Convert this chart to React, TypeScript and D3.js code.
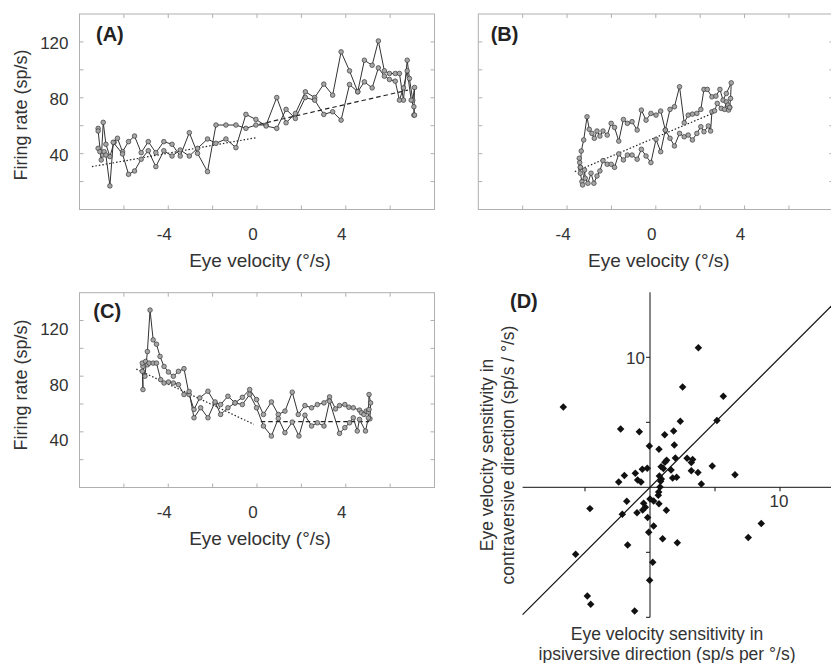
import React from "react";
import * as d3 from "d3";

type Pt = [number, number];

// ---------- Panel A ----------
const A_SWEEP_1: Pt[] = [
  [-7.16, 58.1], [-7.16, 56.2], [-7.02, 35.5], [-6.93, 62.4], [-6.81, 46.7], [-6.63, 37.9],
  [-6.44, 48.1], [-6.29, 51.0], [-6.06, 41.4], [-5.79, 48.6], [-5.52, 52.6], [-5.22, 40.7],
  [-4.90, 48.6], [-4.56, 40.7], [-4.20, 48.6], [-3.83, 46.7], [-3.46, 38.3], [-3.05, 55.0],
  [-2.68, 40.2], [-2.23, 27.1], [-1.85, 60.5], [-1.40, 60.5], [-0.95, 60.5], [-0.50, 58.1],
  [-0.05, 60.5], [0.41, 60.5], [0.89, 80.2], [1.31, 62.1], [1.73, 68.8], [2.18, 84.3],
  [2.60, 80.2], [3.01, 89.8], [3.41, 81.9], [3.79, 112.9], [4.17, 99.3], [4.54, 84.3],
  [4.84, 106.9], [5.19, 103.3], [5.47, 120.7], [5.74, 99.3], [5.97, 97.4], [6.23, 97.4],
  [6.42, 97.4], [6.60, 78.3], [6.77, 106.9], [6.87, 93.8], [7.02, 78.3], [7.10, 87.4], [7.07, 67.6],
];
const A_SWEEP_2: Pt[] = [
  [-7.16, 43.8], [-7.08, 41.4], [-6.96, 39.0], [-6.89, 41.4], [-6.81, 39.0], [-6.63, 16.9],
  [-6.48, 48.1], [-6.06, 39.8], [-5.79, 25.2], [-5.52, 27.6], [-5.22, 36.0], [-4.90, 42.1],
  [-4.56, 30.7], [-4.20, 42.1], [-3.83, 38.3], [-3.46, 42.6], [-3.05, 38.3], [-2.68, 43.8],
  [-2.23, 50.5], [-1.85, 47.4], [-1.40, 50.5], [-0.95, 44.3], [-0.50, 68.1], [-0.05, 64.5],
  [0.41, 59.8], [0.89, 58.1], [1.31, 71.7], [1.73, 65.2], [2.18, 80.2], [2.60, 78.3],
  [3.01, 68.1], [3.41, 70.0], [3.79, 64.0], [4.17, 89.5], [4.54, 84.3], [4.84, 91.4],
  [5.19, 87.1], [5.47, 101.4], [5.74, 95.5], [5.97, 93.1], [6.23, 91.9], [6.42, 78.3],
  [6.60, 87.1], [6.77, 99.3], [6.95, 78.3], [7.07, 73.6], [7.10, 67.6],
];
const A_FIT_DOTTED: Pt[] = [[-7.44, 30.7], [-0.05, 51.4]];
const A_FIT_DASHED: Pt[] = [[0.1, 61.0], [6.8, 85.5]];

// ---------- Panel B ----------
const B_SWEEP_1: Pt[] = [
  [-3.40, 30.2], [-3.36, 41.9], [-3.25, 49.8], [-3.10, 66.4], [-3.00, 57.4], [-2.88, 54.5],
  [-2.77, 51.0], [-2.65, 56.2], [-2.52, 52.6], [-2.38, 56.2], [-2.19, 53.3], [-2.01, 61.7],
  [-1.86, 58.8], [-1.67, 49.0], [-1.46, 64.5], [-1.28, 61.7], [-1.07, 62.9], [-0.84, 56.9],
  [-0.65, 71.2], [-0.44, 64.0], [-0.22, 68.8], [0.01, 67.6], [0.22, 70.5], [0.43, 56.9],
  [0.64, 71.7], [0.84, 73.6], [1.07, 87.9], [1.28, 62.1], [1.46, 67.6], [1.65, 68.3],
  [1.85, 68.8], [2.03, 71.7], [2.17, 86.0], [2.32, 86.0], [2.53, 80.7], [2.71, 81.2],
  [2.89, 86.0], [3.03, 78.3], [3.18, 83.1], [3.40, 90.7], [3.37, 79.5], [3.33, 73.1],
];
const B_SWEEP_2: Pt[] = [
  [-3.40, 30.2], [-3.45, 36.7], [-3.43, 33.6], [-3.40, 26.0], [-3.33, 20.0], [-3.30, 17.6],
  [-3.21, 28.3], [-3.18, 22.4], [-3.06, 18.8], [-2.92, 26.0], [-2.79, 18.8], [-2.65, 24.0],
  [-2.52, 27.6], [-2.38, 35.0], [-2.19, 32.4], [-2.01, 32.4], [-1.86, 30.2], [-1.67, 39.8],
  [-1.46, 35.5], [-1.28, 39.0], [-1.07, 39.0], [-0.84, 36.0], [-0.65, 43.1], [-0.44, 38.3],
  [-0.22, 33.6], [0.01, 50.2], [0.22, 41.4], [0.43, 56.9], [0.64, 51.0], [0.84, 45.5],
  [1.07, 54.5], [1.28, 52.1], [1.46, 53.3], [1.65, 49.8], [1.85, 54.5], [2.03, 59.3],
  [2.17, 55.7], [2.37, 59.8], [2.47, 56.2], [2.53, 70.0], [2.65, 70.7], [2.77, 76.0],
  [2.95, 72.4], [3.10, 71.7], [3.18, 77.1], [3.25, 74.8], [3.28, 71.2], [3.33, 73.1],
];
const B_FIT_DOTTED: Pt[] = [[-3.65, 27.1], [2.58, 69.0]];

// ---------- Panel C ----------
const C_SWEEP_1: Pt[] = [
  [-5.17, 83.5], [-5.14, 70.4], [-5.14, 87.0], [-5.05, 80.0], [-4.94, 97.7], [-4.82, 127.5],
  [-4.68, 106.1], [-4.53, 103.0], [-4.37, 94.2], [-4.19, 87.0], [-3.99, 83.0], [-3.77, 79.9],
  [-3.54, 83.5], [-3.29, 85.4], [-3.06, 66.8], [-2.84, 56.1], [-2.58, 64.4], [-2.21, 69.2],
  [-1.89, 60.8], [-1.64, 59.6], [-1.31, 65.6], [-0.99, 60.8], [-0.66, 64.8], [-0.33, 70.4],
  [-0.02, 63.2], [0.29, 52.5], [0.65, 61.5], [0.96, 52.5], [1.26, 54.9], [1.59, 68.5],
  [1.86, 52.5], [2.16, 58.9], [2.46, 57.3], [2.72, 59.6], [3.02, 60.8], [3.27, 65.1],
  [3.54, 56.5], [3.72, 58.9], [3.96, 59.6], [4.14, 57.7], [4.34, 57.3], [4.62, 55.6],
  [4.71, 53.7], [4.82, 52.5], [4.92, 54.9], [5.02, 54.2], [5.05, 66.8], [5.12, 60.8], [5.09, 49.4],
];
const C_SWEEP_2: Pt[] = [
  [-5.17, 89.4], [-5.02, 90.6], [-4.94, 88.2], [-4.86, 89.4], [-4.68, 89.4], [-4.53, 89.4],
  [-4.34, 77.5], [-4.19, 75.1], [-3.99, 75.8], [-3.77, 75.1], [-3.54, 73.9], [-3.29, 66.8],
  [-3.06, 69.0], [-2.84, 50.1], [-2.54, 57.3], [-2.21, 50.1], [-1.89, 61.5], [-1.64, 52.5],
  [-1.31, 57.3], [-0.99, 60.8], [-0.66, 59.6], [-0.33, 66.8], [-0.02, 57.3], [0.29, 44.2],
  [0.65, 37.0], [0.96, 49.6], [1.26, 39.4], [1.59, 47.0], [1.89, 37.0], [2.16, 52.0],
  [2.46, 44.2], [2.72, 46.5], [3.02, 44.2], [3.27, 62.0], [3.72, 38.9], [3.96, 43.0],
  [4.17, 46.5], [4.34, 50.1], [4.52, 40.6], [4.62, 48.9], [4.89, 40.6], [5.02, 50.0], [5.05, 56.1],
];
const C_FIT_DOTTED: Pt[] = [[-5.44, 85.1], [-0.14, 45.4]];
const C_FIT_DASHED: Pt[] = [[0.17, 47.3], [5.05, 47.3]];

// ---------- Panel D ----------
const D_POINTS: Pt[] = [
  [3.72, 10.74], [2.51, 7.72], [5.64, 7.0], [-6.67, 6.18], [5.15, 5.13], [2.33, 5.08],
  [-2.26, 4.49], [-0.82, 4.28], [1.82, 4.33], [1.13, 4.05], [1.87, 3.26], [-0.05, 3.18],
  [0.69, 2.92], [1.95, 2.26], [1.28, 2.08], [1.15, 1.92], [2.85, 2.23], [3.28, 2.13],
  [3.18, 1.90], [4.79, 1.64], [0.85, 1.59], [1.03, 1.44], [1.62, 1.33], [-0.21, 1.46],
  [-0.59, 1.38], [-1.13, 1.08], [-1.97, 0.90], [-2.41, 0.41], [-0.95, 0.56], [-0.69, 0.41],
  [0.72, 0.87], [0.87, 0.64], [1.74, 0.72], [2.05, 0.77], [3.18, 1.28], [3.69, 1.13],
  [6.54, 0.97], [3.95, 0.26], [0.82, 0.46], [0.77, 0.03], [0.67, -0.36], [0.64, -0.62],
  [0.0, -0.90], [0.28, -1.05], [0.69, -1.26], [1.26, -1.77], [-1.79, -1.08], [-0.49, -1.23],
  [-0.36, -1.54], [-0.56, -1.74], [-1.0, -1.95], [-2.13, -2.08], [-4.62, -1.64], [-0.18, -2.33],
  [0.28, -2.97], [-0.10, -3.46], [0.97, -3.95], [2.10, -4.26], [-1.72, -4.44], [8.56, -2.79],
  [7.56, -3.87], [-5.72, -5.15], [0.21, -5.77], [-0.03, -7.15], [-4.82, -8.36], [-4.56, -9.0],
  [-1.18, -9.51],
];
const D_UNITY: Pt[] = [[-9.8, -9.8], [14.2, 14.2]];

// ---------- axes / ticks ----------
const X_DOMAIN: [number, number] = [-8, 8];
const Y_DOMAIN: [number, number] = [0, 140];
const X_TICKS = [-6, -4, -2, 0, 2, 4, 6];
const X_TICK_LABELS = [-4, 0, 4];
const Y_TICKS = [20, 40, 60, 80, 100, 120];
const Y_TICK_LABELS = [40, 80, 120];
const D_X_TICKS = [-5, 5, 10];
const D_Y_TICKS = [-10, -5, 5, 10];
const D_X_TICK_LABELS = [10];
const D_Y_TICK_LABELS = [10];

const FONT = "'Liberation Sans', Arial, Helvetica, sans-serif";
const TXT = "#333";
const FRAME = "#b0b0b0";

type Box = { left: number; right: number; top: number; bottom: number };

function TracePanel(props: {
  box: Box;
  sweeps: Pt[][];
  dotted: Pt[][];
  dashed: Pt[][];
  label: string;
  labelX: number;
  labelY: number;
  showY: boolean;
  yLabelDy: number;
  yTitleY: number;
}) {
  const { box, sweeps, dotted, dashed, label, labelX, labelY, showY, yLabelDy, yTitleY } = props;
  const x = d3.scaleLinear().domain(X_DOMAIN).range([box.left, box.right]);
  const y = d3.scaleLinear().domain(Y_DOMAIN).range([box.bottom, box.top]);
  const line = d3.line<Pt>().x((d) => x(d[0])).y((d) => y(d[1]));
  const tl = 4;
  return (
    <g>
      <rect x={box.left} y={box.top} width={box.right - box.left} height={box.bottom - box.top}
        fill="none" stroke={FRAME} strokeWidth={1} />
      {X_TICKS.map((t) => (
        <g key={"xt" + t} stroke={FRAME}>
          <line x1={x(t)} x2={x(t)} y1={box.bottom} y2={box.bottom - tl} />
          <line x1={x(t)} x2={x(t)} y1={box.top} y2={box.top + tl} />
        </g>
      ))}
      {Y_TICKS.map((t) => (
        <g key={"yt" + t} stroke={FRAME}>
          <line x1={box.left} x2={box.left + tl} y1={y(t)} y2={y(t)} />
          <line x1={box.right} x2={box.right - tl} y1={y(t)} y2={y(t)} />
        </g>
      ))}
      {X_TICK_LABELS.map((t) => (
        <text key={"xl" + t} x={x(t) - 4} y={box.bottom + 30} textAnchor="middle"
          fontSize={17} fill={TXT} fontFamily={FONT}>{String(t)}</text>
      ))}
      <text x={x(0) + 3} y={box.bottom + 57} textAnchor="middle" fontSize={19} fill={TXT}
        fontFamily={FONT}>Eye velocity (°/s)</text>
      {showY && Y_TICK_LABELS.map((t) => (
        <text key={"yl" + t} x={box.left - 11} y={y(t) + yLabelDy} textAnchor="end"
          fontSize={17} fill={TXT} fontFamily={FONT}>{String(t)}</text>
      ))}
      {showY && (
        <text transform={`translate(26.5,${yTitleY}) rotate(-90)`} textAnchor="middle"
          fontSize={18} fill={TXT} fontFamily={FONT}>Firing rate (sp/s)</text>
      )}
      {dotted.map((f, i) => (
        <path key={"do" + i} d={line(f) || ""} fill="none" stroke="#222" strokeWidth={1.2}
          strokeDasharray="1.5 2" />
      ))}
      {dashed.map((f, i) => (
        <path key={"da" + i} d={line(f) || ""} fill="none" stroke="#222" strokeWidth={1.2}
          strokeDasharray="4.5 3" />
      ))}
      {sweeps.map((s, i) => (
        <path key={"sw" + i} d={line(s) || ""} fill="none" stroke="#333" strokeWidth={1} />
      ))}
      {sweeps.map((s, i) => (
        <g key={"mk" + i}>
          {s.map((p, j) => (
            <circle key={j} cx={x(p[0])} cy={y(p[1])} r={2.3} fill="#a6a6a6" stroke="#3a3a3a"
              strokeWidth={0.7} />
          ))}
        </g>
      ))}
      <text x={labelX} y={labelY} fontSize={20} fontWeight="bold" fill="#222" fontFamily={FONT}>{label}</text>
    </g>
  );
}

function ScatterPanel() {
  const x = d3.scaleLinear().domain([0, 10]).range([650, 780]);
  const y = d3.scaleLinear().domain([0, 10]).range([487.3, 357.3]);
  const line = d3.line<Pt>().x((d) => x(d[0])).y((d) => y(d[1]));
  const diamond = d3.symbol().type(d3.symbolSquare).size(28)() || "";
  return (
    <g>
      <line x1={x(-9.8)} x2={831} y1={y(0)} y2={y(0)} stroke="#111" strokeWidth={1} />
      <line x1={x(0)} x2={x(0)} y1={y(15)} y2={y(-10)} stroke="#111" strokeWidth={1} />
      {D_X_TICKS.map((t) => (
        <line key={"dx" + t} x1={x(t)} x2={x(t)} y1={y(0)} y2={y(0) + 4} stroke="#111" />
      ))}
      {D_Y_TICKS.map((t) => (
        <line key={"dy" + t} x1={x(0) - 4} x2={x(0)} y1={y(t)} y2={y(t)} stroke="#111" />
      ))}
      {D_X_TICK_LABELS.map((t) => (
        <text key={"dxl" + t} x={x(t) - 1} y={y(0) + 19.5} textAnchor="middle" fontSize={17}
          fill={TXT} fontFamily={FONT}>{String(t)}</text>
      ))}
      {D_Y_TICK_LABELS.map((t) => (
        <text key={"dyl" + t} x={x(0) - 5} y={y(t) + 6.5} textAnchor="end" fontSize={17}
          fill={TXT} fontFamily={FONT}>{String(t)}</text>
      ))}
      <path d={line(D_UNITY) || ""} fill="none" stroke="#111" strokeWidth={1.2} />
      {D_POINTS.map((p, i) => (
        <path key={i} d={diamond} transform={`translate(${x(p[0])},${y(p[1])}) rotate(45)`} fill="#111" />
      ))}
      <text x={510} y={308} fontSize={20} fontWeight="bold" fill="#222" fontFamily={FONT}>(D)</text>
      <text transform="translate(492.5,455) rotate(-90)" textAnchor="middle" fontSize={17.5}
        fill={TXT} fontFamily={FONT}>Eye velocity sensitivity in</text>
      <text transform="translate(513.5,455) rotate(-90)" textAnchor="middle" fontSize={17.5}
        fill={TXT} fontFamily={FONT}>contraversive direction (sp/s / °/s)</text>
      <text x={667} y={639.5} textAnchor="middle" fontSize={17.5} fill={TXT} fontFamily={FONT}>
        Eye velocity sensitivity in</text>
      <text x={667} y={659.5} textAnchor="middle" fontSize={17.5} fill={TXT} fontFamily={FONT}>
        ipsiversive direction (sp/s per °/s)</text>
    </g>
  );
}

export default function App() {
  const boxA: Box = { left: 79.5, right: 434.5, top: 14, bottom: 209.5 };
  const boxB: Box = { left: 478.3, right: 833.3, top: 14, bottom: 209.5 };
  const boxC: Box = { left: 79.5, right: 434.5, top: 292.7, bottom: 487.5 };
  return (
    <svg width={831} height={663} viewBox="0 0 831 663"
      style={{ position: "absolute", left: 0, top: 0, background: "#fff" }}>
      <rect x={0} y={0} width={831} height={663} fill="#fff" />
      <TracePanel box={boxA} sweeps={[A_SWEEP_1, A_SWEEP_2]} dotted={[A_FIT_DOTTED]} dashed={[A_FIT_DASHED]}
        label="(A)" labelX={96} labelY={40.5} showY={true} yLabelDy={7.5} yTitleY={115} />
      <TracePanel box={boxB} sweeps={[B_SWEEP_1, B_SWEEP_2]} dotted={[B_FIT_DOTTED]} dashed={[]}
        label="(B)" labelX={490.7} labelY={40.5} showY={false} yLabelDy={0} yTitleY={0} />
      <TracePanel box={boxC} sweeps={[C_SWEEP_1, C_SWEEP_2]} dotted={[C_FIT_DOTTED]} dashed={[C_FIT_DASHED]}
        label="(C)" labelX={93.3} labelY={318} showY={true} yLabelDy={14.5} yTitleY={385} />
      <ScatterPanel />
    </svg>
  );
}
